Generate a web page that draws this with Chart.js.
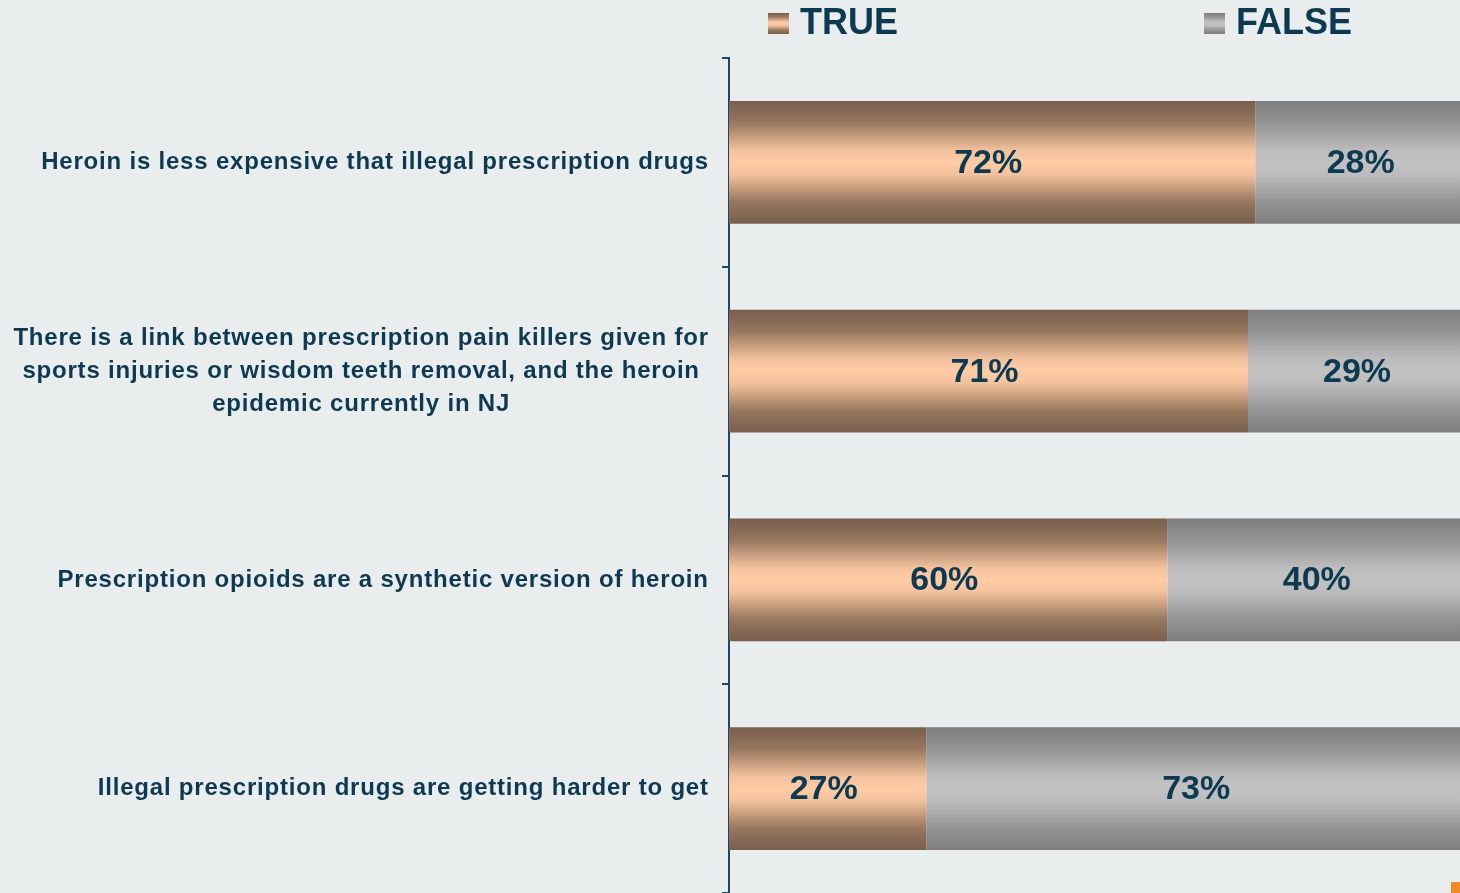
<!DOCTYPE html>
<html>
<head>
<meta charset="utf-8">
<title>True or false</title>
<script src="https://cdn.jsdelivr.net/npm/chart.js@4.4.1/dist/chart.umd.min.js"></script>
<style>
  html, body { margin: 0; padding: 0; background: #e9eded; }
  #wrap { width: 1460px; height: 893px; position: relative; }
</style>
</head>
<body>
<div id="wrap"><canvas id="tfChart"></canvas></div>
<script>
// statements (one array entry per printed line)
const statements = [
    ['Heroin is less expensive that illegal prescription drugs'],
    ['There is a link between prescription pain killers given for',
     'sports injuries or wisdom teeth removal, and the heroin',
     'epidemic currently in NJ'],
    ['Prescription opioids are a synthetic version of heroin'],
    ['Illegal prescription drugs are getting harder to get']
];
const seriesNames = ['TRUE', 'FALSE'];
const trueShare = [72, 71, 60, 27];
const falseShare = [28, 29, 40, 73];

const INK = '#0d3a51';
const FONT = '"Liberation Sans", Arial, sans-serif';
const CAT_PCT = 0.589;
const LABEL_SPACING = 0.8;

const copperStops = [[0, '#785e4d'], [0.18, '#98785f'], [0.4, '#f2c19d'], [0.5, '#ffcca5'], [0.6, '#f2c19d'], [0.82, '#98785f'], [1, '#785e4d']];
const silverStops = [[0, '#7d7d7d'], [0.18, '#949494'], [0.4, '#bcbcbc'], [0.5, '#c2c2c2'], [0.6, '#bcbcbc'], [0.82, '#949494'], [1, '#7d7d7d']];

function vGradient(ctx, top, bottom, stops) {
    const g = ctx.createLinearGradient(0, top, 0, bottom);
    stops.forEach(s => g.addColorStop(s[0], s[1]));
    return g;
}

// each bar gets its own top-to-bottom shading
function barFill(stops) {
    return function (context) {
        const chart = context.chart;
        if (!chart.chartArea || context.type !== 'data') return stops[3][1];
        const yScale = chart.scales.y;
        const center = yScale.getPixelForValue(context.dataIndex);
        const half = (yScale.height / statements.length) * CAT_PCT / 2;
        return vGradient(chart.ctx, center - half, center + half, stops);
    };
}

const decorations = {
    id: 'decorations',
    afterDatasetsDraw(chart) {
        const ctx = chart.ctx;
        // percentage labels in the middle of each segment
        ctx.save();
        ctx.fillStyle = INK;
        ctx.font = 'bold 34px ' + FONT;
        ctx.textAlign = 'center';
        ctx.textBaseline = 'middle';
        const nudge = [-4, 3];
        chart.data.datasets.forEach((ds, di) => {
            chart.getDatasetMeta(di).data.forEach((bar, i) => {
                ctx.fillText(ds.data[i] + '%', (bar.x + bar.base) / 2 + nudge[di], bar.y + 1);
            });
        });
        ctx.restore();
    },
    afterDraw(chart) {
        const ctx = chart.ctx;
        const yScale = chart.scales.y;

        // statement labels: block right-aligned to the axis, lines centred inside it
        ctx.save();
        ctx.fillStyle = INK;
        ctx.font = 'bold 24px ' + FONT;
        ctx.letterSpacing = LABEL_SPACING + 'px';
        ctx.textAlign = 'left';
        ctx.textBaseline = 'middle';
        const right = yScale.right - 21;
        statements.forEach((lines, i) => {
            const cy = yScale.getPixelForValue(i);
            const widths = lines.map(l => ctx.measureText(l).width - LABEL_SPACING);
            const maxW = Math.max(...widths);
            lines.forEach((l, k) => {
                const y = cy + (k - (lines.length - 1) / 2) * 33;
                ctx.fillText(l, right - maxW + (maxW - widths[k]) / 2, y);
            });
        });
        ctx.restore();

        // legend
        ctx.save();
        ctx.font = 'bold 36px ' + FONT;
        ctx.textBaseline = 'middle';
        const legendX = [768, 1204];
        const legendStops = [copperStops, silverStops];
        seriesNames.forEach((name, i) => {
            ctx.fillStyle = vGradient(ctx, 13, 34, legendStops[i]);
            ctx.fillRect(legendX[i], 13, 21, 21);
            ctx.fillStyle = INK;
            ctx.fillText(name, legendX[i] + 32, 24);
        });
        ctx.restore();

        // small accent square in the corner
        ctx.save();
        ctx.fillStyle = '#f28a26';
        ctx.fillRect(chart.width - 9, chart.height - 11, 9, 11);
        ctx.restore();
    }
};

new Chart(document.getElementById('tfChart').getContext('2d'), {
    type: 'bar',
    data: {
        labels: statements,
        datasets: [{
            label: seriesNames[0],
            data: trueShare,
            backgroundColor: barFill(copperStops),
            categoryPercentage: CAT_PCT,
            barPercentage: 1
        }, {
            label: seriesNames[1],
            data: falseShare,
            backgroundColor: barFill(silverStops),
            categoryPercentage: CAT_PCT,
            barPercentage: 1
        }]
    },
    options: {
        indexAxis: 'y',
        responsive: true,
        maintainAspectRatio: false,
        animation: false,
        layout: { padding: { top: 58, bottom: 0, left: 0, right: 0 } },
        plugins: {
            legend: { display: false },
            tooltip: { enabled: false }
        },
        scales: {
            x: {
                display: false,
                stacked: true,
                min: 0,
                max: 100
            },
            y: {
                stacked: true,
                afterFit: scale => { scale.width = 729; },
                ticks: { display: false },
                grid: {
                    drawOnChartArea: false,
                    tickLength: 7,
                    color: '#1c4863',
                    lineWidth: 2
                },
                border: { display: true, color: '#1c4863', width: 2 }
            }
        }
    },
    plugins: [decorations]
});
</script>
</body>
</html>
